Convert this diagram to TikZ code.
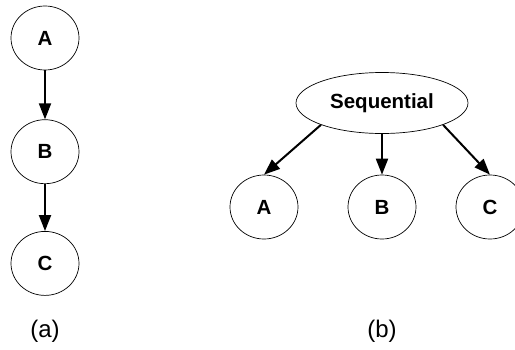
\documentclass[tikz,border=0pt]{standalone}
\usepackage{fontspec}
\setmainfont{Liberation Sans}
\usetikzlibrary{arrows.meta,positioning,shapes.geometric}

\begin{document}
\begin{tikzpicture}[
    x=1pt, y=-1pt,
    circ/.style={draw, ellipse, line width=0.7pt, minimum width=68pt, minimum height=64pt, inner sep=0pt, font=\bfseries\fontsize{20.5}{22}\selectfont},
    oval/.style={draw, ellipse, line width=0.7pt, minimum width=172pt, minimum height=61pt, inner sep=0pt, font=\bfseries\fontsize{20.5}{22}\selectfont},
    link/.style={line width=2pt, -{Triangle[length=16pt,width=12pt]}},
    caption/.style={font=\fontsize{24}{26}\selectfont}
]
    \clip (0,0) rectangle (515,349);
    % (a) chain
    \node[circ] (a1) at (45,38) {A};
    \node[circ, below=49pt of a1] (b1) {B};
    \node[circ, below=47pt of b1] (c1) {C};
    \draw[link] (a1.south) -- (b1.north);
    \draw[link] (b1.south) -- (c1.north);
    \node[caption] (capa) at (45,331) {(a)};
    % (b) sequential
    \node[oval] (seq) at (382,103) {Sequential};
    \node[circ] (a2) at (264,207) {A};
    \node[circ] (b2) at (382,207) {B};
    \node[circ] (c2) at (490,207) {C};
    \draw[link] (seq.south west) -- (a2.north);
    \draw[link] (seq.south) -- (b2.north);
    \draw[link] (seq.south east) -- (c2.north);
    \node[caption] (capb) at (382,331) {(b)};
\end{tikzpicture}
\end{document}
